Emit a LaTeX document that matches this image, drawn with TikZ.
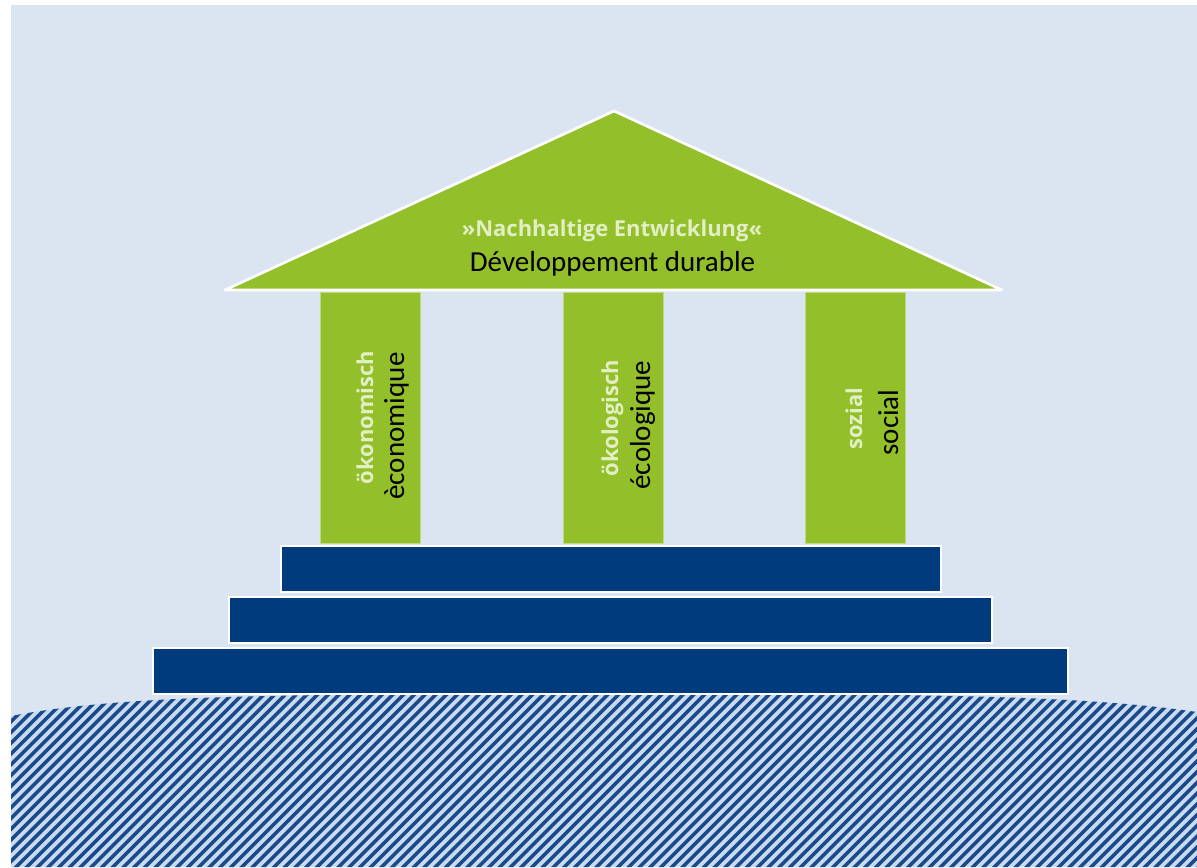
\documentclass[tikz,border=0pt]{standalone}
\usepackage{fontspec}
\setmainfont{Carlito}
\newfontfamily\deufont{Open Sans}
\usetikzlibrary{positioning}

\definecolor{bgblue}{HTML}{DBE5F1}
\definecolor{leafgreen}{HTML}{93C02A}
\definecolor{stepblue}{HTML}{003B7E}
\definecolor{detxt}{HTML}{E2EEC4}
\definecolor{groundblue}{HTML}{C9DBF1}
\definecolor{hatchline}{HTML}{1B4A8A}

\begin{document}
\begin{tikzpicture}

  \coordinate (Apex) at (12.28,-2.22);
  \coordinate (RoofL) at (4.5,-5.8);
  \coordinate (RoofR) at (20.04,-5.8);
  \coordinate (Eco) at (7.41,-8.35);
  \coordinate (Ecol) at (12.26,-8.35);
  \coordinate (Soc) at (17.1,-8.35);
  \coordinate (StepA) at (12.22,-11.38);
  \coordinate (StepB) at (12.21,-12.40);
  \coordinate (StepC) at (12.21,-13.42);

  \tikzstyle{pbox}=[draw=leafgreen!60!white,thin,
                    shape=rectangle,fill=leafgreen,
                    minimum width=2cm,minimum height=5.02cm,
                    inner sep=0pt];
  \tikzstyle{sbox}=[draw=white,thick,
                    shape=rectangle,fill=stepblue,
                    minimum height=0.92cm,inner sep=0pt];
  \tikzstyle{detext}=[text=detxt,inner sep=0pt,anchor=base,
                    font=\deufont\bfseries\fontsize{12.5}{15}\selectfont];
  \tikzstyle{frtext}=[text=black,inner sep=0pt,anchor=base,
                    font=\fontsize{16.5}{20}\selectfont];

  \useasboundingbox (0,0) rectangle (23.94,-17.34);
  \fill[bgblue] (0.22,-0.1) rectangle (23.94,-17.34);

  % ground
  \fill[groundblue] (0.22,-14.32) .. controls (2.5,-13.88) and (6,-13.88) .. (12,-13.88)
        .. controls (18,-13.88) and (21.5,-13.88) .. (23.94,-14.24)
        -- (23.94,-17.34) -- (0.22,-17.34) -- cycle;
  \begin{scope}
    \clip (0.22,-14.32) .. controls (2.5,-13.88) and (6,-13.88) .. (12,-13.88)
        .. controls (18,-13.88) and (21.5,-13.88) .. (23.94,-14.24)
        -- (23.94,-17.34) -- (0.22,-17.34) -- cycle;
    \foreach \x in {-5,-4.785,...,24}
      \draw[hatchline,line width=2pt] (\x,-17.5) -- ++(4.5,4.5);
  \end{scope}

  \node[sbox,minimum width=18.3cm] (StepBottom) at (StepC) {};
  \node[sbox,minimum width=15.26cm] (StepMiddle) at (StepB) {};
  \node[sbox,minimum width=13.2cm] (StepTop) at (StepA) {};

  \node[pbox] (EcoBox) at (Eco) {};
  \node[pbox] (EcolBox) at (Ecol) {};
  \node[pbox] (SocBox) at (Soc) {};

  \filldraw[draw=white,line width=1.5pt,fill=leafgreen,line join=round]
        (RoofL) -- (Apex) -- (RoofR) -- cycle;

  \node[detext] (RoofDe) at (12.24,-4.72) {»Nachhaltige Entwicklung«};
  \node[frtext] (RoofFr) at (12.25,-5.42) {Développement durable};

  \node[detext,rotate=90] (EcoDe) at (7.46,-8.35) {ökonomisch};
  \node[frtext,rotate=90] (EcoFr) at (8.08,-8.52) {èconomique};

  \node[detext,rotate=90] (EcolDe) at (12.36,-8.36) {ökologisch};
  \node[frtext,rotate=90] (EcolFr) at (13.0,-8.5) {écologique};

  \node[detext,rotate=90] (SocDe) at (17.24,-8.37) {sozial};
  \node[frtext,rotate=90] (SocFr) at (17.96,-8.45) {social};

\end{tikzpicture}
\end{document}
